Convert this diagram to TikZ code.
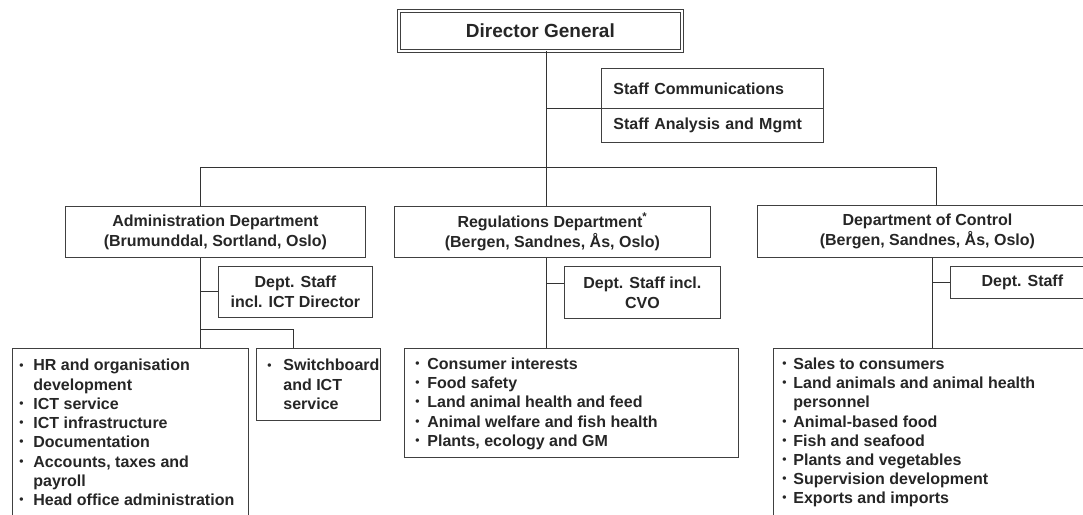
\documentclass[tikz,border=0pt]{standalone}
\usepackage{fontspec}
\setmainfont{Liberation Sans}

% bullet column width and list helpers
\newlength\bulw
\newcommand\smallbul{\raisebox{0.12em}{\fontsize{12}{12}\selectfont\textbullet}}
\newcommand\itm[1]{\par\hangindent=\bulw\hangafter=1\noindent\makebox[\bulw][l]{\smallbul}#1}
% #1 width, #2 height, #3 gap above first line, #4 left pad, #5 bullet column, #6 items
\newcommand\listpar[6]{\parbox[t][#2][t]{#1}{\fontsize{16}{19.2}\selectfont\raggedright
  \setlength\bulw{#5}\leftskip=#4\relax\vspace*{#3}#6\par}}

\begin{document}
\begin{tikzpicture}[x=1pt,y=-1pt,
  box/.style={draw=black!75, line width=0.8pt, inner sep=0pt, anchor=north west,
    align=center, text=black!85, font=\bfseries\fontsize{16}{20}\selectfont},
  listbox/.style={draw=black!75, line width=0.8pt, inner sep=0pt, anchor=north west,
    text=black!85, font=\bfseries},
  wire/.style={draw=black!80, line width=0.9pt}]
\clip (0,0) rectangle (1083,514);
\fill[white] (0,0) rectangle (1083,514);

% top level
\node[box, double, double distance=2pt, minimum width=283pt, minimum height=40pt,
  font=\bfseries\fontsize{19}{22}\selectfont] (dg) at (398.5,10.5) {Director General};
\node[box, minimum width=222pt, minimum height=40pt, text width=198pt, align=left]
  (scomm) at (601,68) {Staff Communications};
\node[box, minimum width=222pt, minimum height=34pt, text width=198pt, align=left]
  (sana) at (601,108) {Staff Analysis and Mgmt};

% departments
\node[box, minimum width=300pt, minimum height=51pt] (adm) at (65,206)
  {Administration Department\\(Brumunddal, Sortland, Oslo)};
\node[box, minimum width=316pt, minimum height=51pt] (reg) at (394,206)
  {Regulations Department\textsuperscript{*}\\(Bergen, Sandnes, Ås, Oslo)};
\node[box, minimum width=340pt, minimum height=52pt] (ctl) at (757,205)
  {Department of Control\\(Bergen, Sandnes, Ås, Oslo)};

% department staff
\node[box, minimum width=154pt, minimum height=51pt] (admstaff) at (218,266)
  {Dept. Staff\\incl. ICT Director};
\node[box, minimum width=156pt, minimum height=52pt] (regstaff) at (564,266)
  {Dept. Staff incl.\\CVO};
\node[box, minimum width=144pt, minimum height=32pt] (ctlstaff) at (950,266)
  {Dept. Staff};

% task lists
\node[listbox] (hr) at (12,348) {\listpar{236pt}{190pt}{11pt}{7pt}{14pt}{%
  \itm{HR and organisation\newline development}
  \itm{ICT service}
  \itm{ICT infrastructure}
  \itm{Documentation}
  \itm{Accounts, taxes and\newline payroll}
  \itm{Head office administration}}};
\node[listbox] (sw) at (256,348) {\listpar{124pt}{72pt}{11pt}{11pt}{16pt}{%
  \itm{Switchboard\newline and ICT\newline service}}};
\node[listbox] (reglist) at (404,348) {\listpar{334pt}{109pt}{9.5pt}{11pt}{12pt}{%
  \itm{Consumer interests}
  \itm{Food safety}
  \itm{Land animal health and feed}
  \itm{Animal welfare and fish health}
  \itm{Plants, ecology and GM}}};
\node[listbox] (ctllist) at (773,348) {\listpar{330pt}{190pt}{9.5pt}{9pt}{11pt}{%
  \itm{Sales to consumers}
  \itm{Land animals and animal health\newline personnel}
  \itm{Animal-based food}
  \itm{Fish and seafood}
  \itm{Plants and vegetables}
  \itm{Supervision development}
  \itm{Exports and imports}}};

% connectors
\coordinate (spine) at (546,52);
\coordinate (barL) at (200,167);
\coordinate (barR) at (936,167);
\coordinate (abr) at (293,329);
\coordinate (rsj) at (546,283);
\coordinate (cspine) at (932,257);

\draw[wire] (spine |- dg.south) -- (spine |- reg.north);
\draw[wire] (scomm.south west) -- (scomm.south west -| spine);
\draw[wire] (barL |- adm.north) -- (barL) -- (barR) -- (barR |- ctl.north);

\draw[wire] (barL |- adm.south) -- (barL |- hr.north);
\draw[wire] (admstaff.west) -- (admstaff.west -| barL);
\draw[wire] (abr -| barL) -- (abr) -- (abr |- sw.north);

\draw[wire] (spine |- reg.south) -- (spine |- reglist.north);
\draw[wire] (rsj) -- (rsj -| regstaff.west);

\draw[wire] (cspine |- ctl.south) -- (cspine |- ctllist.north);
\draw[wire] (ctlstaff.west) -- (ctlstaff.west -| cspine);
\end{tikzpicture}
\end{document}
